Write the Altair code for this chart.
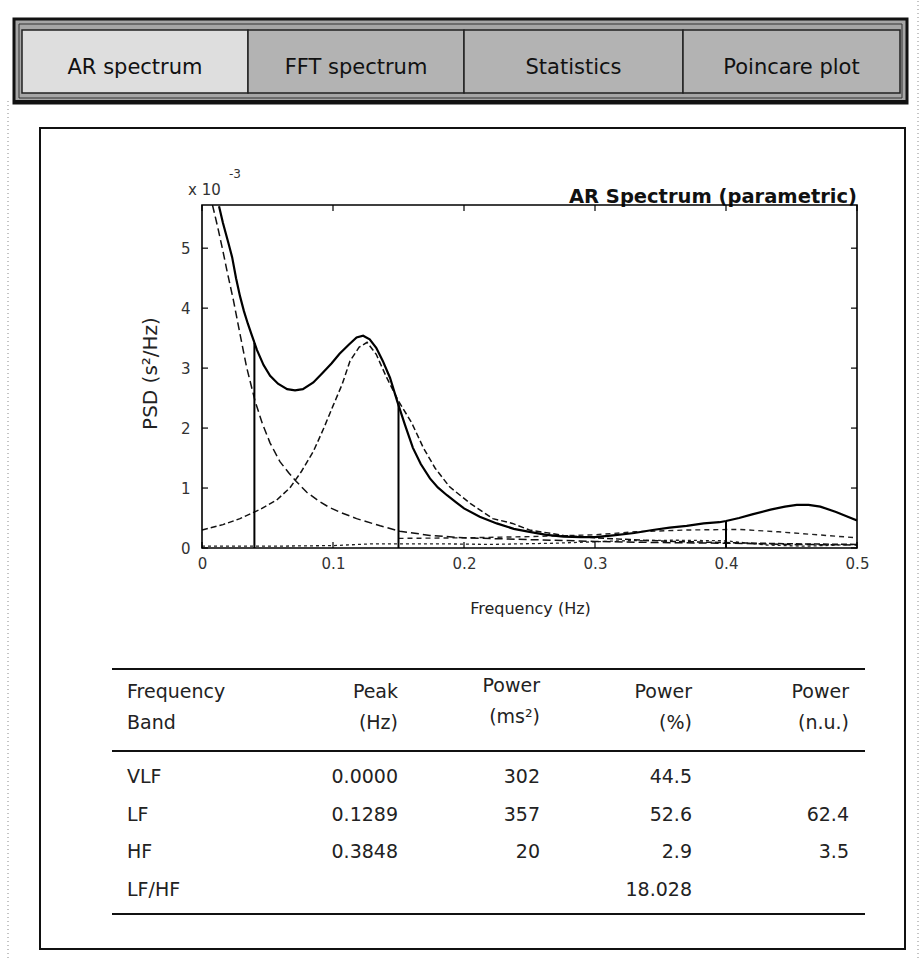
import altair as alt
import pandas as pd

# ---------------- data ----------------
tab_labels = ["AR spectrum", "FFT spectrum", "Statistics", "Poincare plot"]

f_total = [0.013, 0.016, 0.020, 0.023, 0.026, 0.029, 0.032, 0.035, 0.038, 0.042,
           0.047, 0.052, 0.058, 0.065, 0.071, 0.077, 0.085, 0.092, 0.099, 0.105,
           0.112, 0.118, 0.123, 0.128, 0.133, 0.138, 0.1435, 0.149, 0.155, 0.161,
           0.167, 0.174, 0.180, 0.187, 0.194, 0.200, 0.212, 0.225, 0.238, 0.250,
           0.263, 0.276, 0.289, 0.300, 0.314, 0.330, 0.344, 0.357, 0.370, 0.383,
           0.395, 0.400, 0.410, 0.420, 0.434, 0.445, 0.454, 0.463, 0.472, 0.484,
           0.492, 0.500]
psd_total = [5.70, 5.42, 5.10, 4.85, 4.50, 4.20, 3.95, 3.74, 3.55, 3.30,
             3.05, 2.87, 2.74, 2.65, 2.63, 2.65, 2.76, 2.92, 3.08, 3.24,
             3.39, 3.51, 3.54, 3.48, 3.34, 3.12, 2.84, 2.45, 2.05, 1.67,
             1.40, 1.16, 1.01, 0.88, 0.76, 0.66, 0.52, 0.41, 0.32, 0.27,
             0.22, 0.19, 0.18, 0.18, 0.21, 0.25, 0.30, 0.34, 0.37, 0.41,
             0.43, 0.45, 0.50, 0.56, 0.64, 0.69, 0.72, 0.72, 0.69, 0.60,
             0.53, 0.46]

f_vlf = [0.008, 0.012, 0.016, 0.019, 0.024, 0.029, 0.034, 0.0405, 0.046, 0.052,
         0.0595, 0.066, 0.072, 0.080, 0.090, 0.097, 0.105, 0.118, 0.136, 0.151,
         0.174, 0.200, 0.250, 0.300, 0.350, 0.400, 0.450, 0.500]
psd_vlf = [5.72, 5.35, 4.95, 4.63, 4.13, 3.57, 3.02, 2.45, 2.08, 1.75,
           1.44, 1.26, 1.11, 0.93, 0.77, 0.68, 0.60, 0.49, 0.37, 0.28,
           0.21, 0.17, 0.14, 0.11, 0.09, 0.08, 0.06, 0.05]

f_lf = [0.000, 0.016, 0.029, 0.044, 0.057, 0.067, 0.076, 0.085, 0.093, 0.100,
        0.107, 0.113, 0.120, 0.126, 0.133, 0.141, 0.150, 0.160, 0.169, 0.178,
        0.189, 0.205, 0.222, 0.237, 0.250, 0.276, 0.300, 0.327, 0.360, 0.400,
        0.450, 0.500]
psd_lf = [0.30, 0.39, 0.49, 0.64, 0.80, 1.00, 1.28, 1.61, 2.00, 2.37,
          2.73, 3.12, 3.35, 3.43, 3.23, 2.84, 2.45, 2.09, 1.67, 1.33,
          1.02, 0.74, 0.49, 0.41, 0.30, 0.21, 0.17, 0.14, 0.11, 0.09,
          0.07, 0.06]

f_hf = [0.150, 0.200, 0.250, 0.300, 0.330, 0.370, 0.410, 0.440, 0.470, 0.500]
psd_hf = [0.16, 0.17, 0.19, 0.22, 0.27, 0.30, 0.31, 0.27, 0.22, 0.17]

f_low = [0.00, 0.05, 0.10, 0.13, 0.18, 0.22, 0.27, 0.32, 0.36, 0.40, 0.43, 0.46, 0.50]
psd_low = [0.03, 0.03, 0.04, 0.07, 0.07, 0.06, 0.08, 0.12, 0.13, 0.12, 0.05, 0.03, 0.06]

band_edges = [0.04, 0.15, 0.40]
band_edge_psd = [3.42, 2.42, 0.45]

x_ticks = [0, 0.1, 0.2, 0.3, 0.4, 0.5]
y_ticks = [0, 1, 2, 3, 4, 5]

col_headers = [["Frequency", "Band"], ["Peak", "(Hz)"], ["Power", "(ms²)"],
               ["Power", "(%)"], ["Power", "(n.u.)"]]
bands = ["VLF", "LF", "HF", "LF/HF"]
peak_hz = ["0.0000", "0.1289", "0.3848", ""]
power_ms2 = ["302", "357", "20", ""]
power_pct = ["44.5", "52.6", "2.9", "18.028"]
power_nu = ["", "62.4", "3.5", ""]

# ---------------- layout helpers ----------------
OX, OY = 202, 204          # page position of the plot area's top-left corner
W, H = 655, 343            # plot area size
FONT = "DejaVu Sans"
one = pd.DataFrame({"k": [0]})


def X(a):
    return a - OX


def Y(b):
    return b - OY


def rect(x1, y1, x2, y2, **kw):
    return alt.Chart(one).mark_rect(**kw).encode(
        x=alt.value(X(x1)), x2=alt.value(X(x2)),
        y=alt.value(Y(y1)), y2=alt.value(Y(y2)))


def hline(x1, x2, y, **kw):
    return alt.Chart(one).mark_rule(**kw).encode(
        x=alt.value(X(x1)), x2=alt.value(X(x2)), y=alt.value(Y(y)))


def vline(x, y1, y2, **kw):
    return alt.Chart(one).mark_rule(**kw).encode(
        x=alt.value(X(x)), y=alt.value(Y(y1)), y2=alt.value(Y(y2)))


def label(s, x, y, **kw):
    kw.setdefault("font", FONT)
    return alt.Chart(one).mark_text(text=s, **kw).encode(
        x=alt.value(X(x)), y=alt.value(Y(y)))


# ---------------- decorations (window, tabs, panel) ----------------
decor = [
    rect(0, 0, 922, 961, fill="white", strokeOpacity=0),
    vline(8, 100, 961, color="#888", strokeWidth=1, strokeDash=[1, 3]),
    vline(918, 0, 961, color="#888", strokeWidth=1, strokeDash=[1, 3]),
    rect(14, 18, 907, 102, fill="#a6a6a6", stroke="#111", strokeWidth=3),
    rect(19, 23, 902, 97, fillOpacity=0, stroke="#333", strokeWidth=1),
]
tab_edges = [22, 248, 464, 683, 900]
for i, name in enumerate(tab_labels):
    x1, x2 = tab_edges[i], tab_edges[i + 1]
    decor.append(rect(x1, 29, x2, 92, fill="#dedede" if i == 0 else "#b3b3b3",
                      stroke="#222", strokeWidth=1.5))
    decor.append(label(name, (x1 + x2) / 2, 67, fontSize=21, color="#111",
                       align="center", baseline="middle"))
decor.append(hline(14, 907, 101, color="#111", strokeWidth=4))
decor.append(rect(40, 127, 905, 948, fill="white", stroke="#111", strokeWidth=2))

decor += [
    label("AR Spectrum (parametric)", 857, 202, fontSize=19.5, fontWeight="bold",
          color="#111", align="right", baseline="alphabetic"),
    label("x 10", 188, 189, fontSize=15, color="#333", align="left", baseline="middle"),
    label("-3", 229, 173, fontSize=12, color="#333", align="left", baseline="middle"),
]

# ---------------- spectrum plot ----------------
xs = alt.Scale(domain=[0, 0.5], nice=False, zero=False)
ys = alt.Scale(domain=[0, 5.72], nice=False, zero=False)
x_axis = alt.Axis(values=x_ticks, format="~g", ticks=False, domain=False, grid=False,
                  labelFont=FONT, labelFontSize=15, labelColor="#333", labelPadding=8,
                  labelFlush=False, labelOverlap=False,
                  title="Frequency (Hz)", titleFont=FONT, titleFontSize=16,
                  titleFontWeight="normal", titleColor="#222", titleX=328, titleY=60,
                  titleAlign="center", titleBaseline="middle", zindex=1)
y_axis = alt.Axis(values=y_ticks, format="d", ticks=False, domain=False, grid=False,
                  labelFont=FONT, labelFontSize=15, labelColor="#333", labelPadding=12,
                  labelFlush=False, labelOverlap=False,
                  title="PSD (s²/Hz)", titleFont=FONT, titleFontSize=20,
                  titleFontWeight="normal", titleColor="#222", titleX=-52, titleY=168,
                  titleAngle=270, titleAlign="center", titleBaseline="middle", zindex=1)
XE = alt.X("f:Q", scale=xs, axis=x_axis)
YE = alt.Y("psd:Q", scale=ys, axis=y_axis)


def curve(fv, pv, **kw):
    return alt.Chart(pd.DataFrame({"f": fv, "psd": pv})).mark_line(clip=True, **kw).encode(
        x=XE, y=YE)


spec_layers = [
    curve(f_low, psd_low, color="#222", strokeWidth=1.3, strokeDash=[3, 3]),
    curve(f_hf, psd_hf, color="#222", strokeWidth=1.4, strokeDash=[5, 4]),
    curve(f_vlf, psd_vlf, color="#111", strokeWidth=1.5, strokeDash=[8, 4]),
    curve(f_lf, psd_lf, color="#111", strokeWidth=1.5, strokeDash=[6, 3]),
    curve(f_total, psd_total, color="black", strokeWidth=2.2),
    alt.Chart(pd.DataFrame({"f": band_edges, "psd": band_edge_psd})).mark_rule(
        color="black", strokeWidth=2).encode(x=XE, y=YE, y2=alt.value(H)),
    alt.Chart(one).mark_rect(fillOpacity=0, stroke="black", strokeWidth=1.6).encode(
        x=alt.value(0), x2=alt.value(W), y=alt.value(0), y2=alt.value(H)),
    alt.Chart(pd.DataFrame({"f": x_ticks})).mark_rule(color="black", strokeWidth=1.2).encode(
        x=XE, y=alt.value(H), y2=alt.value(H - 6)),
    alt.Chart(pd.DataFrame({"f": x_ticks})).mark_rule(color="black", strokeWidth=1.2).encode(
        x=XE, y=alt.value(0), y2=alt.value(6)),
    alt.Chart(pd.DataFrame({"psd": y_ticks})).mark_rule(color="black", strokeWidth=1.2).encode(
        y=YE, x=alt.value(0), x2=alt.value(6)),
    alt.Chart(pd.DataFrame({"psd": y_ticks})).mark_rule(color="black", strokeWidth=1.2).encode(
        y=YE, x=alt.value(W), x2=alt.value(W - 6)),
]
spectrum = alt.layer(*spec_layers)

# ---------------- table ----------------
tdf = pd.DataFrame({"band": bands, "peak": peak_hz, "pms": power_ms2,
                    "ppct": power_pct, "pnu": power_nu})
ty = alt.Y("band:N", axis=None,
           scale=alt.Scale(type="point", domain=bands, range=[Y(776), Y(889)], padding=0))
cols = [("band", 127, "left"), ("peak", 398, "right"), ("pms", 540, "right"),
        ("ppct", 692, "right"), ("pnu", 849, "right")]
table_layers = []
for (field, px, al), hdr in zip(cols, col_headers):
    table_layers.append(
        alt.Chart(tdf).mark_text(align=al, baseline="middle", font=FONT, fontSize=19,
                                 color="#222").encode(
            x=alt.value(X(px)), y=ty, text=alt.Text(f"{field}:N")))
    dy = -6 if field == "pms" else 0
    table_layers.append(label(hdr[0], px, 691 + dy, fontSize=19, color="#222", align=al,
                              baseline="middle"))
    table_layers.append(label(hdr[1], px, 722 + dy, fontSize=19, color="#222", align=al,
                              baseline="middle"))
table = alt.layer(*table_layers)

rules = [
    hline(112, 865, 668, color="#111", strokeWidth=2),
    hline(112, 865, 750, color="#111", strokeWidth=2),
    hline(112, 865, 913, color="#111", strokeWidth=2),
]

chart = alt.layer(*decor, spectrum, table, *rules).resolve_scale(
    y="independent"
).properties(width=W, height=H, padding=0).configure_view(stroke=None)

chart.save("out.html", embed_options={"renderer": "svg", "actions": False})
